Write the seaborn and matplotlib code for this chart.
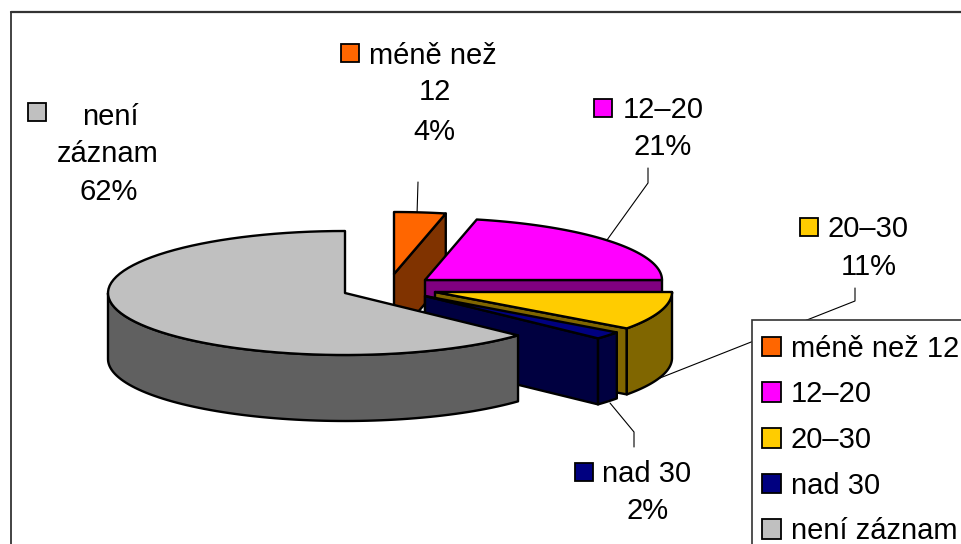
import numpy as np
import matplotlib
matplotlib.use("Agg")
import matplotlib.pyplot as plt
from matplotlib.patches import Patch, Rectangle
import seaborn as sns

# Values of the chart
categories = ["méně než 12", "12–20", "20–30", "nad 30", "není záznam"]
values = [4, 21, 11, 2, 62]
colors = ["#FF6600", "#FF00FF", "#FFCC00", "#000080", "#C0C0C0"]

sns.set_theme(style="white")
plt.rcParams["font.family"] = ["Liberation Sans", "DejaVu Sans"]
palette = sns.color_palette(colors)
shades = [tuple(c / 2 for c in col) for col in palette]

# the axes work in picture pixels
fig = plt.figure(figsize=(9.61, 5.44), dpi=100)
ax = fig.add_axes([0, 0, 1, 1])
ax.set_xlim(0, 961)
ax.set_ylim(544, 0)
ax.axis("off")

RX, RY, DEPTH = 237, 62, 66
apexes = [(394, 274), (425, 280), (435, 292), (425, 296), (345, 293)]
FS = 21
LW = 1.7


def view_angle(deg):
    # slight perspective squeeze of the slice angles
    return deg - 3.7 * np.abs(np.sin(np.radians(2 * deg)))


def arc(center, a, b):
    t = np.radians(np.linspace(a, b, 80))
    return center[0] + RX * np.sin(t), center[1] - RY * np.cos(t)


def draw_slice(center, start, stop, color, dark):
    a, b = view_angle(start), view_angle(stop)
    # cut face at the end of the slice
    if b < 180:
        x, y = arc(center, b, b)
        ex, ey = x[0], y[0]
        ax.fill([center[0], ex, ex, center[0]],
                [center[1], ey, ey + DEPTH, center[1] + DEPTH],
                facecolor=dark, edgecolor="black", lw=LW, joinstyle="round")
    # outer wall, front half only
    lo, hi = max(a, 90), min(b, 270)
    if hi > lo:
        x, y = arc(center, lo, hi)
        ax.fill(np.r_[x, x[::-1]], np.r_[y, y[::-1] + DEPTH],
                facecolor=dark, edgecolor="black", lw=LW, joinstyle="round")
    # top of the slice
    x, y = arc(center, a, b)
    ax.fill(np.r_[center[0], x], np.r_[center[1], y],
            facecolor=color, edgecolor="black", lw=LW, joinstyle="round")


# leader lines go under the pie
leaders = [
    ([418, 417], [182, 215]),
    ([648, 648, 607], [168, 183, 240]),
    ([855, 855, 660], [288, 301, 378]),
    ([634, 634, 610], [447, 432, 403]),
]
for lx, ly in leaders:
    ax.plot(lx, ly, color="black", lw=0.8, zorder=1)

shares = np.array(values) / sum(values) * 360
stops = np.cumsum(shares)
starts = stops - shares
for i in range(len(values)):
    draw_slice(apexes[i], starts[i], stops[i], palette[i], shades[i])

# chart frame, runs off the picture on the right and bottom
ax.plot([11, 11], [544, 12], color="#222222", lw=1.2)
ax.plot([11, 961], [12, 12], color="#333333", lw=1.6)

# data labels: swatch position, then text lines with their centres
labels = [
    (0, (341, 44), [("méně než", 433, 56), ("12", 435, 92), (f"{values[0]}%", 434, 132)]),
    (1, (594, 99), [(categories[1], 663, 110), (f"{values[1]}%", 663, 147)]),
    (2, (800, 218), [(categories[2], 868, 229), (f"{values[2]}%", 869, 267)]),
    (3, (575, 463), [(categories[3], 647, 474), (f"{values[3]}%", 648, 511)]),
    (4, (28, 103), [("není", 110, 117), ("záznam", 108, 154), (f"{values[4]}%", 109, 192)]),
]
for idx, (sx, sy), lines in labels:
    ax.add_patch(Rectangle((sx, sy), 18, 18, facecolor=palette[idx],
                           edgecolor="black", lw=1.3))
    for txt, cx, cy in lines:
        ax.text(cx, cy, txt, ha="center", va="center", fontsize=FS, color="black")

# legend box is cut off by the picture edge
ax.add_patch(Rectangle((752, 320), 400, 400, facecolor="white", edgecolor="#333333",
                       lw=1.2, zorder=4))
handles = [Patch(facecolor=palette[i], edgecolor="black", lw=1.3, label=categories[i])
           for i in range(len(categories))]
leg = ax.legend(handles=handles, loc="upper left", bbox_to_anchor=(753, 326),
                bbox_transform=ax.transData, fontsize=FS, frameon=False,
                borderaxespad=0, borderpad=0.3,
                handlelength=0.65, handleheight=0.65, handletextpad=0.35,
                labelspacing=0.605, labelcolor="black")
leg.set_zorder(5)

fig.savefig("out.png", dpi=100)
